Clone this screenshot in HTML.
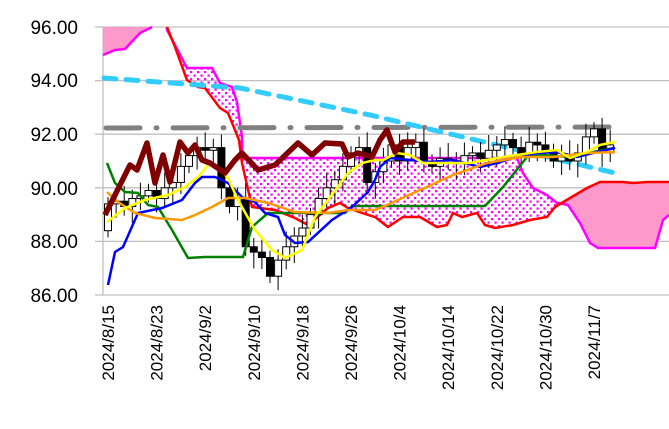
<!DOCTYPE html>
<html><head><meta charset="utf-8"><style>
body{margin:0;background:#fff;}
svg{display:block;font-family:"Liberation Sans",sans-serif;}
</style></head><body>
<svg id="s" width="669" height="429" xmlns="http://www.w3.org/2000/svg">
<defs>
<pattern id="dots" width="7" height="7" patternUnits="userSpaceOnUse">
<rect x="1" y="1" width="2.2" height="2.2" fill="#ff00ff"/>
<rect x="4.5" y="4.5" width="2.2" height="2.2" fill="#ff00ff"/>
</pattern>
</defs>
<g stroke="#c0c0c0" stroke-width="1.3">
<line x1="95" y1="27" x2="669" y2="27"/>
<line x1="95" y1="80.6" x2="669" y2="80.6"/>
<line x1="95" y1="134.2" x2="669" y2="134.2"/>
<line x1="95" y1="187.8" x2="669" y2="187.8"/>
<line x1="95" y1="241.4" x2="669" y2="241.4"/>
<line x1="95" y1="295" x2="669" y2="295"/>
<line x1="103" y1="27" x2="103" y2="295"/>
</g>
<g font-size="19" fill="#000" text-anchor="end">
<text x="78" y="34">96.00</text>
<text x="78" y="87">94.00</text>
<text x="78" y="141">92.00</text>
<text x="78" y="195">90.00</text>
<text x="78" y="248">88.00</text>
<text x="78" y="302">86.00</text>
</g>
<g font-size="17" fill="#000" text-anchor="end" id="xl"></g>
<!-- clouds -->
<polygon points="103,27 103,55 115,50 125,49 140,33 152,27" fill="#ff99cc"/>
<polyline points="103,55 115,50 125,49 140,33 152,27" fill="none" stroke="#ff00ff" stroke-width="2.5"/>
<polygon fill="url(#dots)" points="167,27 175,47 187,80 198,87 205,88 220,108 228,113 235,130 239,140 242,163 252,207 275,210 295,218 308,225 328,208 340,203 348,208 362,213 375,217 388,227 403,217 420,217 437,227 447,225 453,213 462,217 477,213 485,225 495,228 513,225 530,220 547,217 555,207 557,203 547,195 533,188 523,173 517,160 242,158 242,137 237,102 232,87 220,83 212,68 187,68 167,30"/>
<polygon fill="#ff99cc" points="555,207 570,198 587,188 600,182 623,182 633,183 647,182 669,182 669,215 663,220 655,248 598,248 590,243 580,223 568,205 557,203"/>
<polyline fill="none" stroke="#ff00ff" stroke-width="2.5" points="167,27 167,30 187,68 212,68 220,83 232,87 237,102 242,137 242,158 517,158 523,173 533,188 547,195 557,203 568,205 580,223 590,243 598,248 655,248 663,220 669,215"/>
<polyline fill="none" stroke="#ff0000" stroke-width="2.5" points="167,27 175,47 187,80 198,87 205,88 220,108 228,113 235,130 239,140 242,163 252,207 275,210 295,218 308,225 328,208 340,203 348,208 362,213 375,217 388,227 403,217 420,217 437,227 447,225 453,213 462,217 477,213 485,225 495,228 513,225 530,220 547,217 555,207 570,198 587,188 600,182 623,182 633,183 647,182 669,182"/>
<polyline fill="none" stroke="#808080" stroke-width="5" stroke-linecap="round" stroke-dasharray="34 16 1 16" points="106,128 615,127"/>
<polyline fill="none" stroke="#33ccff" stroke-width="5" stroke-linecap="round" stroke-dasharray="12 10" points="104,78 240,88 370,115 615,173"/>
<g id="candles"></g>
<polyline fill="none" stroke="#008000" stroke-width="2.5" points="107,163 115,183 125,192 138,193 148,205 158,207 172,230 188,258 205,257 243,257 252,227 268,213 345,213 352,206 485,206 503,187 527,157 543,155 570,157 603,150 615,148"/>
<polyline fill="none" stroke="#0000ff" stroke-width="2.5" points="108,285 115,252 123,247 138,213 162,208 182,200 195,183 202,177 215,177 228,183 242,197 255,202 265,213 278,217 285,235 295,243 308,242 332,220 352,207 368,192 375,180 380,167 390,158 430,162 453,160 480,167 497,163 513,158 537,153 557,152 577,157 597,152 615,148"/>
<polyline fill="none" stroke="#ff9900" stroke-width="2.5" points="107,192 118,202 135,213 155,218 182,220 195,215 212,207 228,198 245,198 268,203 295,212 328,213 348,210 375,210 387,205 420,190 453,175 487,163 520,157 553,157 587,153 615,152"/>
<polyline fill="none" stroke="#ffff00" stroke-width="2.5" points="107,222 125,208 145,200 168,195 185,187 198,177 208,165 218,167 228,178 238,200 255,230 272,250 285,258 302,250 315,217 328,200 348,173 362,163 375,160 383,160 397,153 410,155 423,163 443,163 470,163 497,158 517,155 537,152 557,150 570,158 587,152 600,145 615,142"/>
<polyline fill="none" stroke="#800000" stroke-width="5.5" stroke-linejoin="round" points="105,215 115,195 130,165 137,170 147,143 155,183 163,155 170,182 180,142 188,153 195,145 202,160 210,163 225,173 235,160 242,153 258,170 275,165 298,143 312,155 325,143 342,144 348,157 358,153 372,157 380,140 387,130 395,152 403,142 415,142"/>
</svg>
<script>
const ns="http://www.w3.org/2000/svg";
const Y=p=>27+(96-p)*26.8;
const X=i=>108+i*8.1;
const closes=[89.4,89.5,89.3,89.6,89.7,89.9,89.6,90.0,90.2,90.8,91.2,91.5,91.4,91.5,90.0,89.3,89.6,87.8,87.6,87.4,86.7,87.3,87.8,88.2,88.5,89.0,89.6,90.0,90.3,90.8,91.3,91.5,90.2,90.6,91.0,91.6,91.0,91.5,91.7,91.0,90.8,91.1,91.0,90.9,91.2,91.3,91.1,91.4,91.6,91.8,91.5,91.3,91.7,91.6,91.4,91.0,91.2,91.0,91.3,91.9,92.2,91.3,91.6];
const g=document.getElementById("candles");
let prev=88.4;
closes.forEach((c,i)=>{
 const o=prev, hi=Math.max(o,c)+0.25+((i*37)%5)*0.08, lo=Math.min(o,c)-0.25-((i*53)%5)*0.09;
 const x=X(i);
 const l=document.createElementNS(ns,"line");
 l.setAttribute("x1",x);l.setAttribute("x2",x);l.setAttribute("y1",Y(hi));l.setAttribute("y2",Y(lo));
 l.setAttribute("stroke","#000");l.setAttribute("stroke-width","1");g.appendChild(l);
 const r=document.createElementNS(ns,"rect");
 const top=Y(Math.max(o,c)),bot=Y(Math.min(o,c));
 r.setAttribute("x",x-3.5);r.setAttribute("width",7);r.setAttribute("y",top);r.setAttribute("height",Math.max(1,bot-top));
 r.setAttribute("fill",c>=o?"#fff":"#000");r.setAttribute("stroke","#000");r.setAttribute("stroke-width","1");
 g.appendChild(r);
 prev=c;
});
const labels=["2024/8/15","2024/8/23","2024/9/2","2024/9/10","2024/9/18","2024/9/26","2024/10/4","2024/10/14","2024/10/22","2024/10/30","2024/11/7"];
const xl=document.getElementById("xl");
labels.forEach((t,i)=>{
 const x=114+i*48.6, y=305;
 const e=document.createElementNS(ns,"text");
 e.setAttribute("x",x);e.setAttribute("y",y);
 e.setAttribute("transform",`rotate(-90 ${x} ${y})`);
 e.textContent=t;xl.appendChild(e);
});
</script>
</body></html>
